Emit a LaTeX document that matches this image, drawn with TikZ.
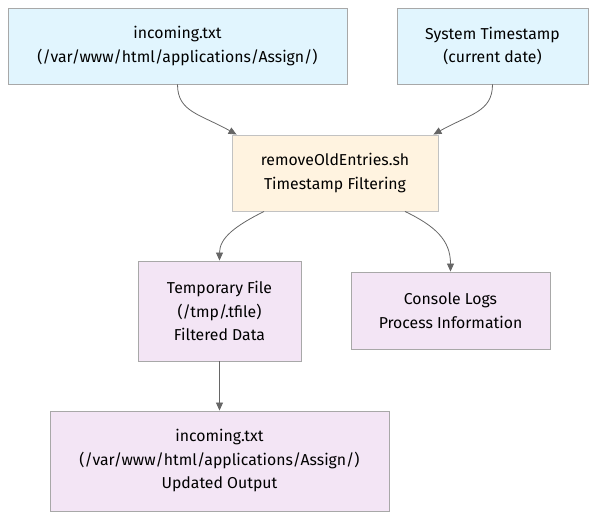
\documentclass[tikz,border=0pt]{standalone}
\usepackage{fontspec}
\setmainfont{Fira Sans}
\usetikzlibrary{arrows.meta}
\definecolor{inblue}{HTML}{E1F5FE}
\definecolor{procorange}{HTML}{FFF3E0}
\definecolor{outpurple}{HTML}{F3E5F5}
\definecolor{boxline}{HTML}{A8A8A8}
\definecolor{edgeline}{HTML}{666666}

\begin{document}
\begin{tikzpicture}[x=1pt, y=-1pt,
    box/.style={rectangle, draw=boxline, line width=0.9pt, align=center, inner sep=0pt,
                font=\fontsize{15.8}{23.5}\selectfont},
    flow/.style={draw=edgeline, line width=0.8pt, -{Triangle[length=8pt,width=7pt]}}]
            \useasboundingbox (0, 0) rectangle (604, 526);

            \node[box, fill=inblue, minimum width=339pt, minimum height=76pt] (incoming) at (177.5, 46) {incoming.txt\\(/var/www/html/applications/Assign/)};
            \node[box, fill=inblue, minimum width=191pt, minimum height=76pt] (systime) at (492.5, 46) {System Timestamp\\(current date)};

            \node[box, fill=procorange, draw=boxline!70, minimum width=206pt, minimum height=76pt] (remove) at (335, 173) {removeOldEntries.sh\\Timestamp Filtering};

            \node[box, fill=outpurple, minimum width=163pt, minimum height=100pt] (tempfile) at (219.5, 311) {Temporary File\\(/tmp/.tfile)\\Filtered Data};
            \node[box, fill=outpurple, minimum width=199pt, minimum height=77pt] (console) at (450.5, 310.5) {Console Logs\\Process Information};
            \node[box, fill=outpurple, minimum width=339pt, minimum height=100pt] (updated) at (219.5, 461) {incoming.txt\\(/var/www/html/applications/Assign/)\\Updated Output};

            \draw[flow] (incoming.south) .. controls (177.5, 112) and (200, 114) .. ([xshift=5]remove.north west);
            \draw[flow] (systime.south) .. controls (492.5, 112) and (470, 114) .. ([xshift=-5]remove.north east);
            \draw[flow] ([xshift=-71]remove.south) .. controls (235, 226) and (219.5, 238) .. (tempfile.north);
            \draw[flow] ([xshift=70]remove.south) .. controls (435, 226) and (450.5, 240) .. (console.north);
            \draw[flow] (tempfile.south) -- (updated.north);
        \end{tikzpicture}
\end{document}
